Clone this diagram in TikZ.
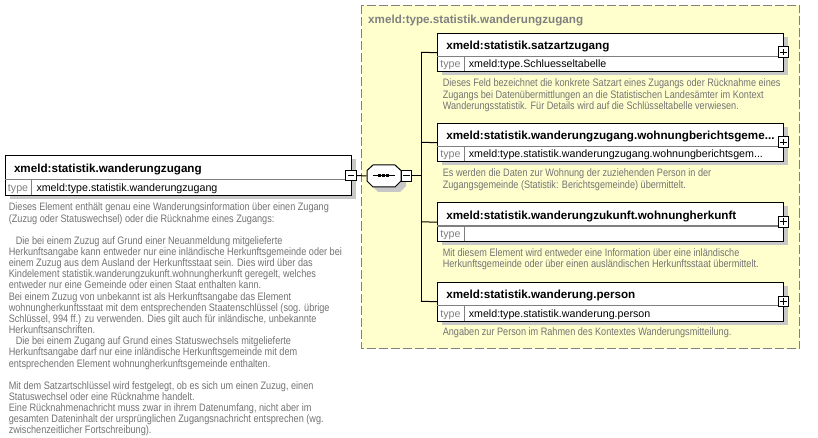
\documentclass[tikz,border=0pt]{standalone}
\usepackage{fontspec}
\setmainfont{Liberation Sans}
\newfontfamily\descfamily[FakeStretch=0.846]{Liberation Sans}
\definecolor{descgray}{RGB}{115,115,115}
\definecolor{boxyellow}{RGB}{255,255,206}
\definecolor{shadowgray}{RGB}{200,200,200}
\definecolor{bordergray}{RGB}{128,128,128}
\tikzset{
  elbox/.style={draw=black, fill=white, anchor=north west, inner sep=0pt, minimum width=346pt},
  divider/.style={draw=bordergray, line width=1pt},
  ttl/.style={anchor=base west, inner sep=0pt, font=\fontsize{11.65}{14}\selectfont\bfseries},
  typelab/.style={anchor=base west, inner sep=0pt, text=bordergray, font=\fontsize{10.67}{13}\selectfont},
  typeval/.style={anchor=base west, inner sep=0pt, font=\fontsize{10.67}{13}\selectfont},
  desc/.style={anchor=base west, inner sep=0pt, text=descgray, font=\descfamily\fontsize{10.8}{11.15}\selectfont},
  ctitle/.style={anchor=base west, inner sep=0pt, text=bordergray, font=\fontsize{11.65}{14}\selectfont\bfseries},
  signbase/.style={draw=black, fill=white, minimum size=10.5pt, inner sep=0pt},
  minusbox/.style={signbase, path picture={\draw[line width=1pt] ([xshift=2pt]path picture bounding box.west) -- ([xshift=-2pt]path picture bounding box.east);}},
  plusbox/.style={signbase, path picture={\draw[line width=1pt] ([xshift=2pt]path picture bounding box.west) -- ([xshift=-2pt]path picture bounding box.east); \draw[line width=1pt] ([yshift=-2pt]path picture bounding box.north) -- ([yshift=2pt]path picture bounding box.south);}},
  conn/.style={draw=black, line width=1pt}
}
% #1 name, #2 left x, #3 top y, #4 title row height, #5 title, #6 type value
\newcommand{\xelem}[6]{%
  \fill[shadowgray] ({#2+5},{#3+4}) rectangle ({#2+351},{#3+#4+19});
  \node[elbox, minimum height={#4+15}] (#1) at (#2,#3) {};
  \draw[divider] (#2,{#3+#4}) -- ({#2+346},{#3+#4});
  \draw[divider] ({#2+26.7},{#3+#4}) -- ({#2+26.7},{#3+#4+15});
  \node[ttl] (#1-t) at ({#2+8.5},{#3+#4-7}) {#5};
  \node[typelab] (#1-l) at ({#2+2.5},{#3+#4+11.5}) {type};
  \node[typeval] (#1-v) at ({#2+31},{#3+#4+11.5}) {#6};
}
\begin{document}
\begin{tikzpicture}[x=1pt,y=-1pt,line width=1pt]
\useasboundingbox (0,0) rectangle (818,438);
\fill[white] (0,0) rectangle (818,438);

% container
\draw[bordergray, fill=boxyellow, dash pattern=on 9pt off 3pt] (361.5,5.5) rectangle (799.5,348.5);
\node[ctitle] (ctl) at (367.7,23.3) {xmeld:type.statistik.wanderungzugang};

% main element
\xelem{main}{5}{155}{25}{xmeld:statistik.wanderungzugang}{xmeld:type.statistik.wanderungzugang}
\node[minusbox] (mainS) at (351,175.5) {};

% main description
\foreach \t [count=\i from 0] in {{Dieses Element enthält genau eine Wanderungsinformation über einen Zugang},{(Zuzug oder Statuswechsel) oder die Rücknahme eines Zugangs:}}
  \node[desc] (mA\i) at (8.3,{210.9+\i*11.15}) {\t};
\foreach \t [count=\i from 3] in {{\hspace*{7pt}Die bei einem Zuzug auf Grund einer Neuanmeldung mitgelieferte},{Herkunftsangabe kann entweder nur eine inländische Herkunftsgemeinde oder bei},{einem Zuzug aus dem Ausland der Herkunftsstaat sein. Dies wird über das},{Kindelement statistik.wanderungzukunft.wohnungherkunft geregelt, welches},{entweder nur eine Gemeinde oder einen Staat enthalten kann.},{Bei einem Zuzug von unbekannt ist als Herkunftsangabe das Element},{wohnungherkunftsstaat mit dem entsprechenden Staatenschlüssel (sog. übrige},{Schlüssel, 994 ff.) zu verwenden. Dies gilt auch für inländische, unbekannte},{Herkunftsanschriften.},{\hspace*{7pt}Die bei einem Zugang auf Grund eines Statuswechsels mitgelieferte},{Herkunftsangabe darf nur eine inländische Herkunftsgemeinde mit dem},{entsprechenden Element wohnungherkunftsgemeinde enthalten.}}
  \node[desc] (mB\i) at (8.3,{210.9+\i*11.15}) {\t};
\foreach \t [count=\i from 16] in {{Mit dem Satzartschlüssel wird festgelegt, ob es sich um einen Zuzug, einen},{Statuswechsel oder eine Rücknahme handelt.},{Eine Rücknahmenachricht muss zwar in ihrem Datenumfang, nicht aber im},{gesamten Dateninhalt der ursprünglichen Zugangsnachricht entsprechen (wg.},{zwischenzeitlicher Fortschreibung).}}
  \node[desc] (mC\i) at (8.3,{210.9+\i*11.15}) {\t};

% sequence compositor
\fill[shadowgray] (372,181) -- (372,175.5) -- (378,170) -- (400,170) -- (406,175.5) -- (406,186) -- (400,192) -- (378,192) -- (372,186) -- cycle;
\draw[fill=white] (367,176) -- (367,170.5) -- (373,165) -- (395,165) -- (401,170.5) -- (401,181) -- (395,187) -- (373,187) -- (367,181) -- cycle;
\node[minimum width=34pt, minimum height=22pt, inner sep=0pt] (seq) at (384,176) {};
\draw[line width=1pt] (372.7,176) -- (395,176);
\fill[black] (378,174.5) rectangle (381,177.5);
\fill[black] (382,174.5) rectangle (385,177.5);
\fill[black] (386,174.5) rectangle (389,177.5);
\node[minusbox] (seqS) at (406.5,176) {};

% children
\xelem{c1}{437.3}{33}{23.5}{xmeld:statistik.satzartzugang}{xmeld:type.Schluesseltabelle}
\node[plusbox] (c1S) at (783.3,52.25) {};
\xelem{c2}{437.3}{123}{23.5}{xmeld:statistik.wanderungzugang.wohnungberichtsgeme...}{xmeld:type.statistik.wanderungzugang.wohnungberichtsgem...}
\node[plusbox] (c2S) at (783.3,142.25) {};
\xelem{c3}{437.3}{202.5}{23.5}{xmeld:statistik.wanderungzukunft.wohnungherkunft}{}
\node[plusbox] (c3S) at (783.3,221.75) {};
\xelem{c4}{437.3}{282}{23.5}{xmeld:statistik.wanderung.person}{xmeld:type.statistik.wanderung.person}
\node[plusbox] (c4S) at (783.3,301.25) {};

% child descriptions
\foreach \t [count=\i from 0] in {{Dieses Feld bezeichnet die konkrete Satzart eines Zugangs oder Rücknahme eines},{Zugangs bei Datenübermittlungen an die Statistischen Landesämter im Kontext},{Wanderungsstatistik. Für Details wird auf die Schlüsseltabelle verwiesen.}}
  \node[desc] (d1\i) at (442.3,{86.9+\i*11.15}) {\t};
\foreach \t [count=\i from 0] in {{Es werden die Daten zur Wohnung der zuziehenden Person in der},{Zugangsgemeinde (Statistik: Berichtsgemeinde) übermittelt.}}
  \node[desc] (d2\i) at (442.3,{176.9+\i*11.15}) {\t};
\foreach \t [count=\i from 0] in {{Mit diesem Element wird entweder eine Information über eine inländische},{Herkunftsgemeinde oder über einen ausländischen Herkunftsstaat übermittelt.}}
  \node[desc] (d3\i) at (442.3,{256.4+\i*11.15}) {\t};
\node[desc] (d40) at (442.3,335.9) {Angaben zur Person im Rahmen des Kontextes Wanderungsmitteilung.};

% connectors
\coordinate (jn) at (421,176);
\coordinate (j1) at (421,52.25);
\coordinate (j2) at (421,142.25);
\coordinate (j3) at (421,221.75);
\coordinate (j4) at (421,301.25);
\draw[conn] (mainS.east) -- (seq.west);
\draw[conn] (seqS.east) -- (jn);
\draw[conn] (j1) -- (j4);
\draw[conn] (j1) -- (c1.west);
\draw[conn] (j2) -- (c2.west);
\draw[conn] (j3) -- (c3.west);
\draw[conn] (j4) -- (c4.west);
\end{tikzpicture}
\end{document}
